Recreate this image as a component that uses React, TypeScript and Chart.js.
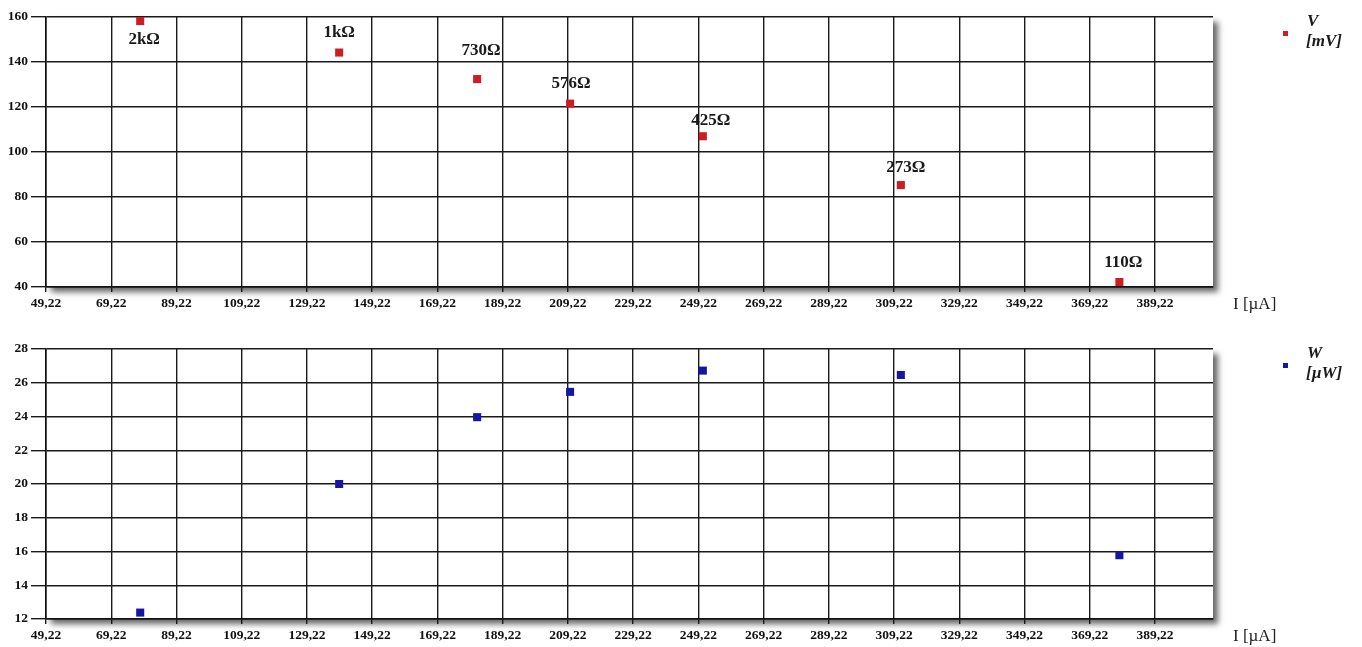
import React, { useEffect, useRef } from 'react';
import { Chart, registerables } from 'chart.js';

Chart.register(...registerables);

// ---- data ----
const CURRENT_UA = [78.1, 139.1, 181.4, 209.9, 250.6, 311.3, 378.3];
const VOLTAGE_MV = [158.2, 144.2, 132.4, 121.5, 107.0, 85.3, 42.2];
const POWER_UW = [12.38, 20.0, 23.96, 25.46, 26.72, 26.46, 15.78];
const RESISTANCE_LABELS = ['2kΩ', '1kΩ', '730Ω', '576Ω', '425Ω', '273Ω', '110Ω'];

const X_TICKS = [
  49.22, 69.22, 89.22, 109.22, 129.22, 149.22, 169.22, 189.22, 209.22,
  229.22, 249.22, 269.22, 289.22, 309.22, 329.22, 349.22, 369.22, 389.22,
];
const X_MIN = 49.22;
const X_MAX = 407;

const V_MIN = 40;
const V_MAX = 160;
const V_STEP = 20;
const W_MIN = 12;
const W_MAX = 28;
const W_STEP = 2;

const X_TITLE = 'I [µA]';
const V_LEGEND = ['V', '[mV]'];
const W_LEGEND = ['W', '[µW]'];

// label offsets relative to each point (styling)
const LABEL_OFFSETS: [number, number][] = [
  [4, 19], [0, -20], [4, -28], [1, -20], [8, -16], [5, -17], [4, -19],
];

const RED = '#cc1c24';
const BLUE = '#1616a4';
const SERIF = '"Liberation Serif", "Times New Roman", serif';

const shadowPlugin = {
  id: 'plotShadow',
  beforeDraw(chart: any) {
    const { ctx, chartArea: a } = chart;
    ctx.save();
    ctx.shadowColor = 'rgba(0,0,0,0.6)';
    ctx.shadowBlur = 6;
    ctx.shadowOffsetX = 5;
    ctx.shadowOffsetY = 5;
    ctx.fillStyle = '#ffffff';
    ctx.fillRect(a.left, a.top, a.right - a.left, a.bottom - a.top);
    ctx.restore();
  },
};

function sidePlugin(lines: string[], color: string) {
  return {
    id: 'sideLegend',
    afterDraw(chart: any) {
      const { ctx, chartArea: a } = chart;
      ctx.save();
      ctx.fillStyle = color;
      ctx.fillRect(a.right + 70, a.top + 14, 5, 5);
      ctx.fillStyle = '#1a1a1a';
      ctx.font = `italic bold 17px ${SERIF}`;
      ctx.textBaseline = 'middle';
      ctx.textAlign = 'left';
      ctx.fillText(lines[0], a.right + 94, a.top + 5);
      ctx.fillText(lines[1], a.right + 93, a.top + 25);
      ctx.font = `17px ${SERIF}`;
      ctx.fillStyle = '#222';
      ctx.fillText(X_TITLE, a.right + 20, a.bottom + 18);
      ctx.restore();
    },
  };
}

const pointLabelPlugin = {
  id: 'pointLabels',
  afterDatasetsDraw(chart: any) {
    const { ctx } = chart;
    const meta = chart.getDatasetMeta(0);
    ctx.save();
    ctx.font = `bold 17px ${SERIF}`;
    ctx.fillStyle = '#1a1a1a';
    ctx.textAlign = 'center';
    ctx.textBaseline = 'middle';
    meta.data.forEach((pt: any, i: number) => {
      const off = LABEL_OFFSETS[i] || [0, -20];
      ctx.fillText(RESISTANCE_LABELS[i], pt.x + off[0], pt.y + off[1]);
    });
    ctx.restore();
  },
};

function makeConfig(opts: {
  ys: number[];
  color: string;
  yMin: number;
  yMax: number;
  yStep: number;
  legend: string[];
  padTop: number;
  xAxisH: number;
  withLabels: boolean;
}): any {
  const tickFont = { family: SERIF, size: 13.5, weight: 'bold' as const };
  const plugins: any[] = [shadowPlugin, sidePlugin(opts.legend, opts.color)];
  if (opts.withLabels) plugins.push(pointLabelPlugin);
  return {
    type: 'scatter',
    data: {
      datasets: [
        {
          data: CURRENT_UA.map((x, i) => ({ x, y: opts.ys[i] })),
          backgroundColor: opts.color,
          borderColor: opts.color,
          borderWidth: 0,
          pointStyle: 'rect',
          pointRadius: 5.7,
          pointHoverRadius: 5.7,
          showLine: false,
        },
      ],
    },
    plugins,
    options: {
      responsive: false,
      animation: false,
      events: [],
      layout: { padding: { top: opts.padTop, right: 149, left: 0, bottom: 0 } },
      plugins: { legend: { display: false }, tooltip: { enabled: false } },
      scales: {
        x: {
          type: 'linear',
          min: X_MIN,
          max: X_MAX,
          afterBuildTicks(scale: any) {
            scale.ticks = X_TICKS.map((v) => ({ value: v }));
          },
          afterFit(scale: any) {
            scale.height = opts.xAxisH;
          },
          ticks: {
            autoSkip: false,
            maxRotation: 0,
            padding: 3,
            color: '#111',
            font: tickFont,
            callback: (v: number) => v.toFixed(2).replace('.', ','),
          },
          grid: { color: '#1a1a1a', lineWidth: 1.4, tickLength: 5 },
          border: { color: '#111', width: 1.6 },
        },
        y: {
          type: 'linear',
          min: opts.yMin,
          max: opts.yMax,
          afterFit(scale: any) {
            scale.width = 46;
          },
          ticks: {
            stepSize: opts.yStep,
            padding: 3,
            color: '#111',
            font: tickFont,
          },
          grid: { color: '#1a1a1a', lineWidth: 1.4, tickLength: 15 },
          border: { color: '#111', width: 1.6 },
        },
      },
    },
  };
}

export default function App() {
  const topRef = useRef<HTMLCanvasElement>(null);
  const botRef = useRef<HTMLCanvasElement>(null);

  useEffect(() => {
    Chart.defaults.font.family = SERIF;
    const c1 = new Chart(
      topRef.current!,
      makeConfig({
        ys: VOLTAGE_MV,
        color: RED,
        yMin: V_MIN,
        yMax: V_MAX,
        yStep: V_STEP,
        legend: V_LEGEND,
        padTop: 17,
        xAxisH: 33,
        withLabels: true,
      })
    );
    const c2 = new Chart(
      botRef.current!,
      makeConfig({
        ys: POWER_UW,
        color: BLUE,
        yMin: W_MIN,
        yMax: W_MAX,
        yStep: W_STEP,
        legend: W_LEGEND,
        padTop: 29,
        xAxisH: 28,
        withLabels: false,
      })
    );
    return () => {
      c1.destroy();
      c2.destroy();
    };
  }, []);

  return (
    <div
      style={{
        position: 'absolute',
        left: 0,
        top: 0,
        width: 1362,
        height: 647,
        background: '#ffffff',
        overflow: 'hidden',
      }}
    >
      <canvas
        ref={topRef}
        width={1362}
        height={320}
        style={{ position: 'absolute', left: 0, top: 0, width: 1362, height: 320 }}
      />
      <canvas
        ref={botRef}
        width={1362}
        height={327}
        style={{ position: 'absolute', left: 0, top: 320, width: 1362, height: 327 }}
      />
    </div>
  );
}
